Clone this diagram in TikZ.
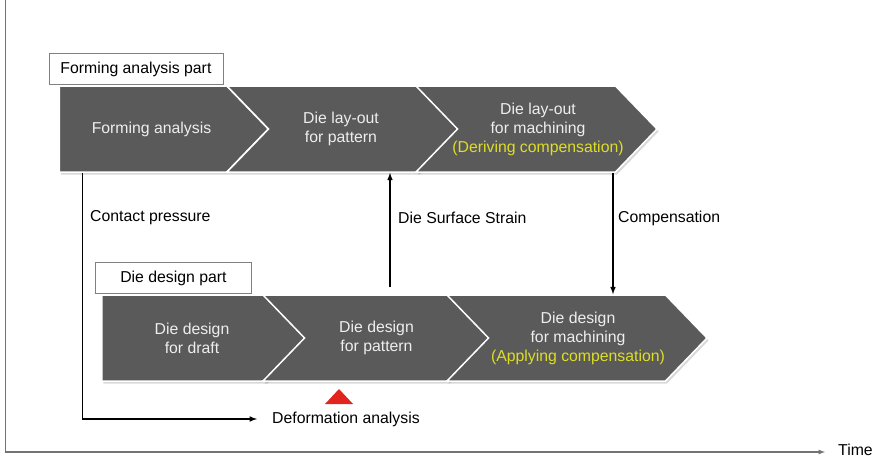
\documentclass[tikz,border=0pt]{standalone}
\usepackage{fontspec}
\setmainfont{Liberation Sans}
\usepackage{xcolor}
\usepackage{tikz}
\usetikzlibrary{shapes.symbols,shadows,positioning,calc}
\definecolor{chevgray}{RGB}{90,90,90}
\definecolor{chevtext}{RGB}{238,238,238}
\definecolor{comptext}{RGB}{222,222,36}
\definecolor{markred}{RGB}{226,36,30}
\colorlet{framegray}{gray!90!black}

\begin{document}
\begin{tikzpicture}[x=1pt, y=1pt, font=\fontsize{15.8}{19}\selectfont,
  chev/.style={signal, signal to=east, signal from=west, signal pointer angle=92,
    minimum height=86pt, minimum width=#1, inner sep=0pt,
    fill=chevgray, draw=white, line width=1.5pt,
    drop shadow={shadow xshift=1.5pt, shadow yshift=-2.5pt, opacity=.3}},
  startchev/.style={signal from=nowhere},
  steptext/.style={text=chevtext, align=center},
  partbox/.style={draw=gray, fill=white, line width=0.8pt, minimum width=#1, minimum height=31pt, inner sep=0pt},
  flow/.style={-latex, line width=1.5pt},
  flowlabel/.style={anchor=west, inner sep=0pt}]
\useasboundingbox (0,0) rectangle (877,459);

% Forming analysis part

\node[chev=209pt, startchev] (fa) at (143,330) {};
\node[chev=233pt] (dl) at (343.5,330) {};
\node[chev=241pt] (dm) at (536.5,330) {};

\node[steptext] (fatext) at ([xshift=8.5pt]fa.center) {Forming analysis};
\node[steptext] (dltext) at ([xshift=-2.5pt]dl.center) {Die lay-out\\for pattern};
\node[steptext] (dmtext) at ([xshift=1.5pt]dm.center) {Die lay-out\\for machining\\{\color{comptext}(Deriving compensation)}};

\node[partbox=174pt, above right=0pt and -10pt of fa.north west] (fapart) {Forming analysis part};

% Die design part

\node[chev=206pt, startchev] (dd) at (184,121) {};
\node[chev=227pt] (dp) at (376.5,121) {};
\node[chev=260pt] (dc) at (577,121) {};

\node[steptext] (ddtext) at ([xshift=8pt]dd.center) {Die design\\for draft};
\node[steptext] (dptext) at (dp.center) {Die design\\for pattern};
\node[steptext] (dctext) at ([xshift=1pt]dc.center) {Die design\\for machining\\{\color{comptext}(Applying compensation)}};

\node[partbox=156pt, above right=0pt and -6pt of dd.north west] (ddpart) {Die design part};

% Data flow between the parts

\node[flowlabel] (deform) at (272,40) {Deformation analysis};
\node[flowlabel] (cplabel) at (90,241) {Contact pressure};
\node[flowlabel] (strainlabel) at (398,241) {Die Surface Strain};
\node[flowlabel] (complabel) at (618,241) {Compensation};

\draw[flow] ([xshift=24pt]fa.south west) |- ([xshift=-15pt]deform.west);
\draw[flow, shorten <=7pt] ([xshift=13.5pt]dp.north) -- ([xshift=13.5pt]dp.north |- dl.south);
\draw[flow] ([xshift=76.5pt]dm.south) -- ([xshift=76.5pt]dm.south |- dc.north);

\coordinate (mark) at (339,62);
\fill[markred] ([shift={(-14,-7)}]mark) -- ++(28,0) -- ++(-14,15) -- cycle;

% Time axis

\coordinate (origin) at (5,7);
\node[flowlabel] (time) at (838,9) {Time};
\draw[framegray, line width=1pt] (5,459) -- (origin);
\draw[-latex, framegray, line width=1.2pt] (origin) -- ([xshift=-13pt]time.west |- origin);
\end{tikzpicture}
\end{document}
